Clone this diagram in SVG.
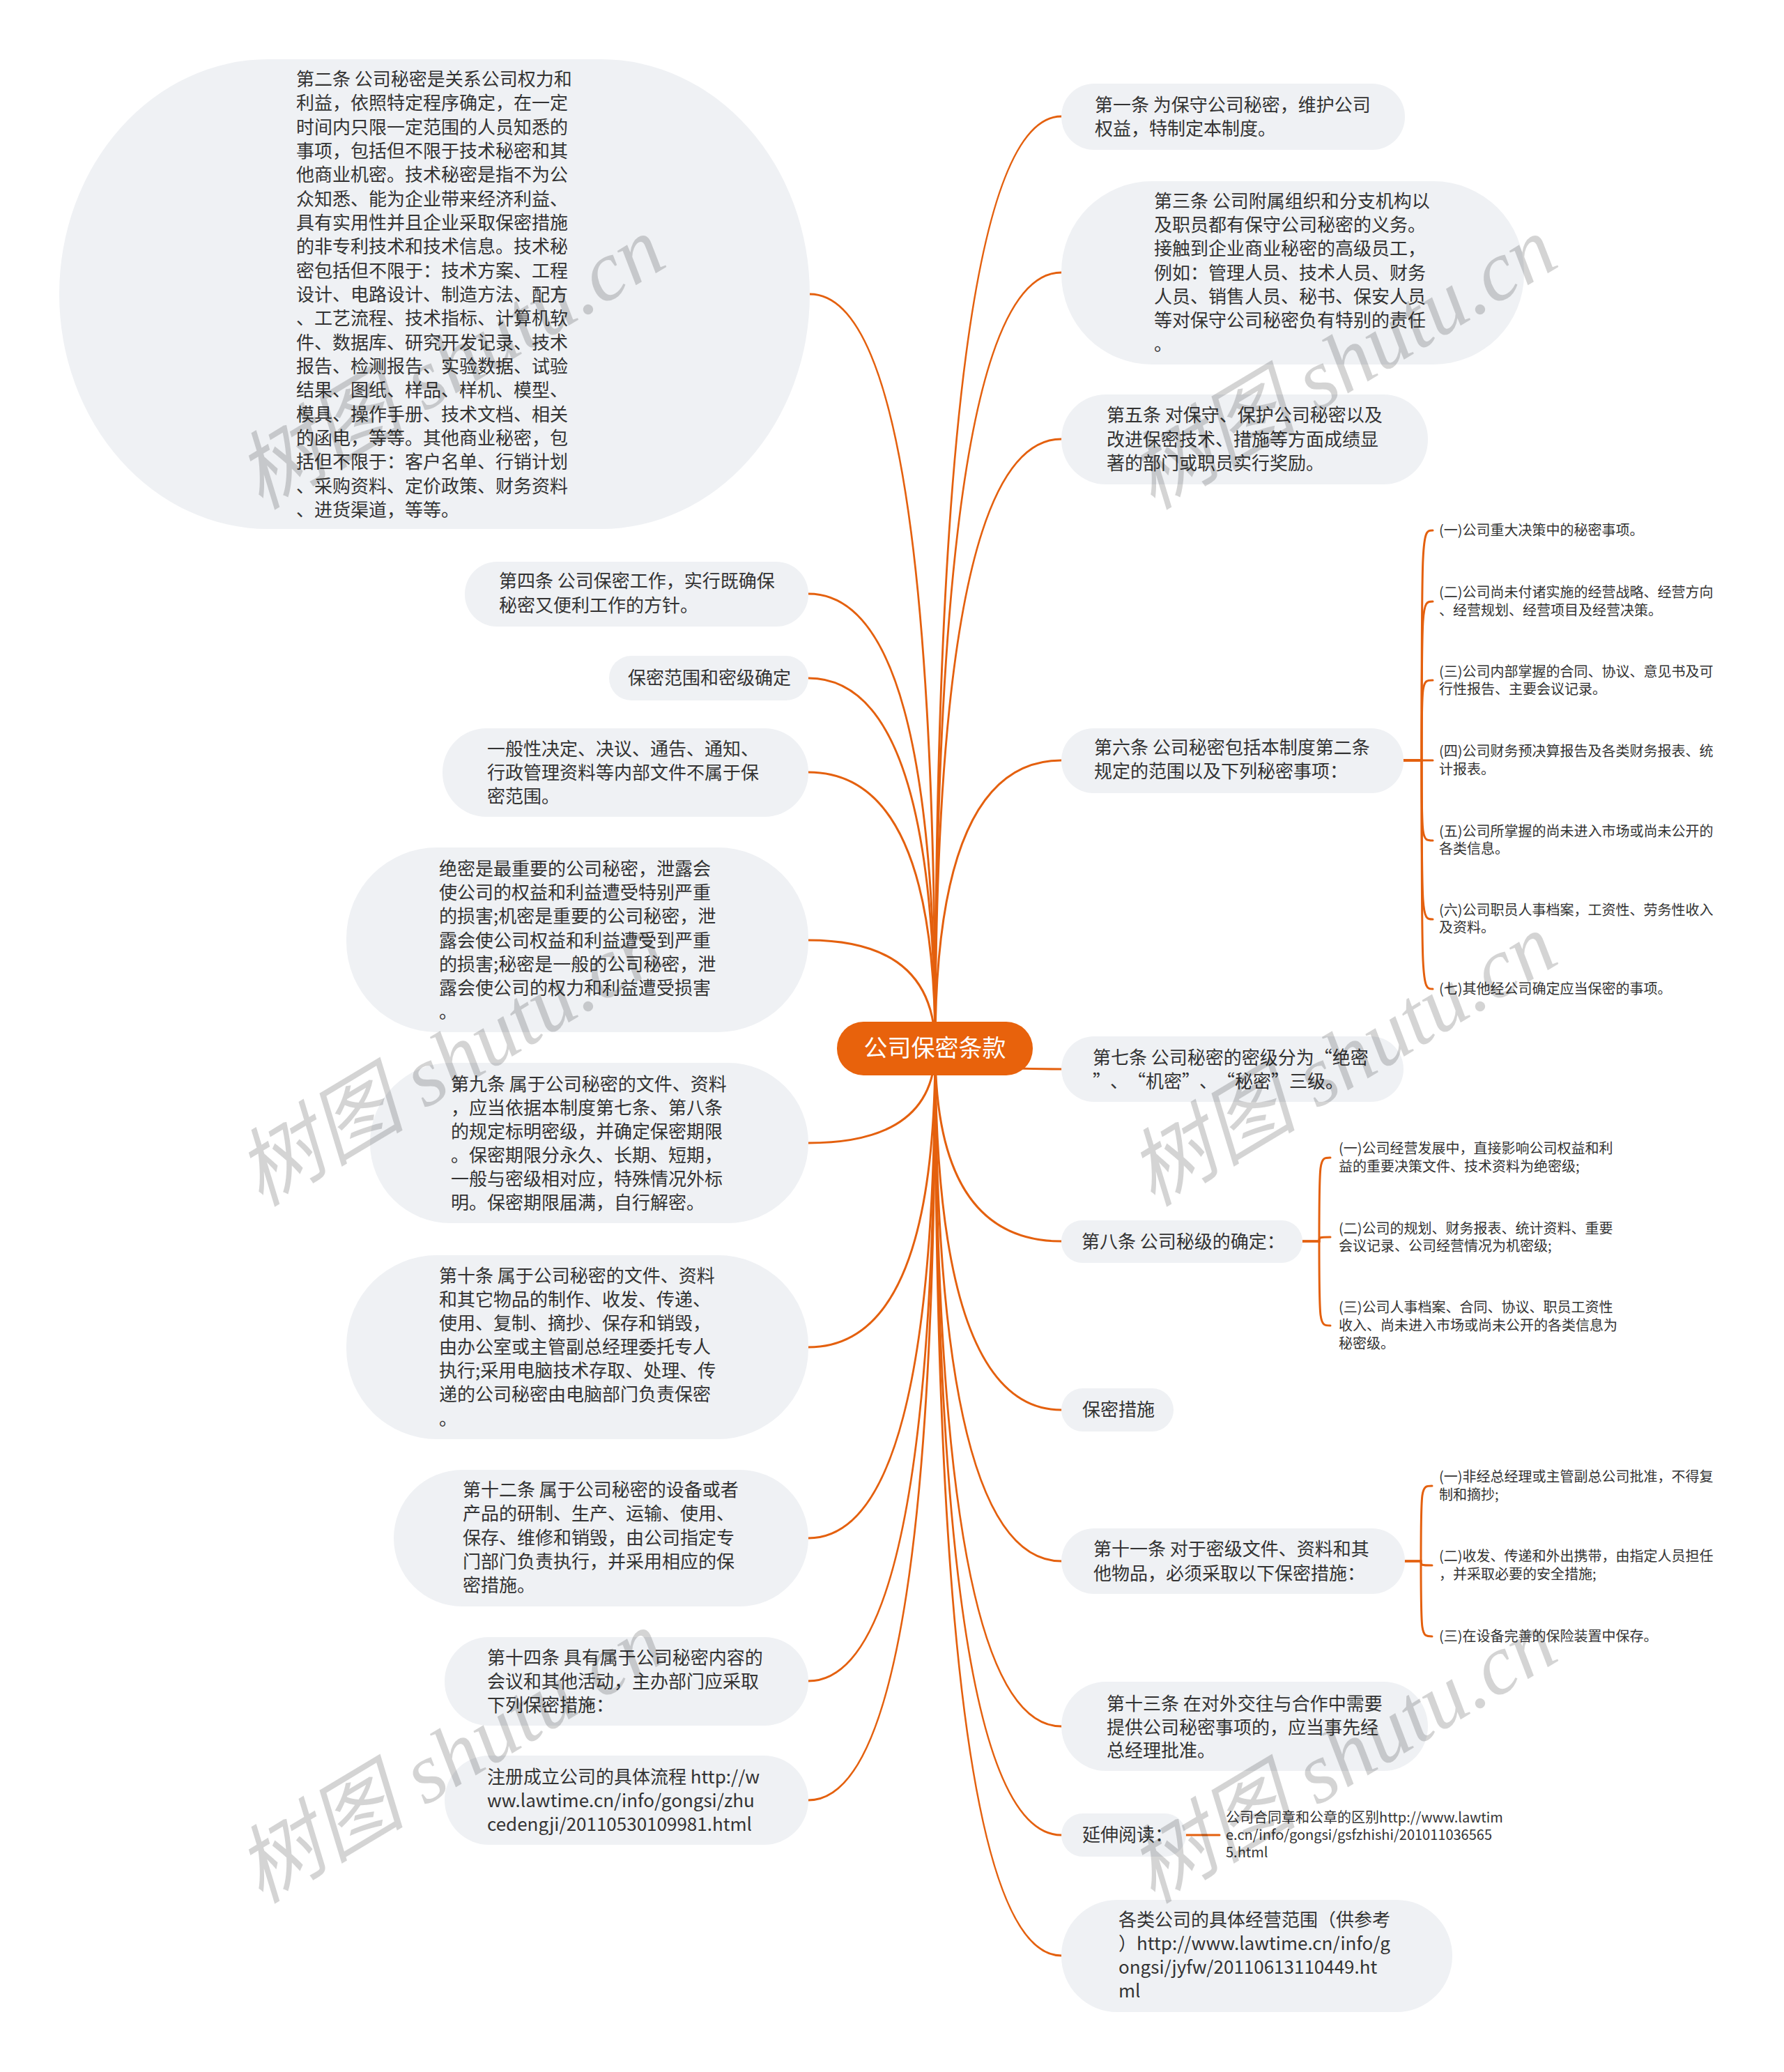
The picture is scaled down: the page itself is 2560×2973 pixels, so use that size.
<svg xmlns="http://www.w3.org/2000/svg" width="2560" height="2973" viewBox="0 0 2560 2973">
<style>
.bg{fill:#ffffff}
.nd{fill:#EFF1F4}
.t{font-family:"Noto Sans CJK SC","Noto Sans",sans-serif;font-size:26px;fill:#333333}
.s{font-family:"Noto Sans CJK SC","Noto Sans",sans-serif;font-size:20px;fill:#333333}
.c{font-family:"Noto Sans CJK SC","Noto Sans",sans-serif;font-size:34px;fill:#ffffff;text-anchor:middle}
.cn{fill:#E8620C}
.ln{fill:none;stroke:#E4600E;stroke-width:3;stroke-linecap:round}
.wm{font-family:"Liberation Serif","Noto Sans CJK SC",serif;font-style:italic;font-size:122px;fill:#000000;fill-opacity:0.17;text-anchor:middle}
</style>
<rect class="bg" x="0" y="0" width="2560" height="2973"/>
<g id="connectors">
<path class="ln" d="M1342,1504 Q1342,422 1162,422"/>
<path class="ln" d="M1342,1504 Q1342,852 1160,852"/>
<path class="ln" d="M1342,1504 Q1342,973 1160,973"/>
<path class="ln" d="M1342,1504 Q1342,1108 1160,1108"/>
<path class="ln" d="M1342,1504 Q1342,1349 1160,1349"/>
<path class="ln" d="M1342,1504 Q1342,1640 1160,1640"/>
<path class="ln" d="M1342,1504 Q1342,1933 1160,1933"/>
<path class="ln" d="M1342,1504 Q1342,2207 1160,2207"/>
<path class="ln" d="M1342,1504 Q1342,2412 1160,2412"/>
<path class="ln" d="M1342,1504 Q1342,2583 1160,2583"/>
<path class="ln" d="M1342,1504 Q1342,167 1523,167"/>
<path class="ln" d="M1342,1504 Q1342,391 1523,391"/>
<path class="ln" d="M1342,1504 Q1342,630 1523,630"/>
<path class="ln" d="M1342,1504 Q1342,1091 1523,1091"/>
<path class="ln" d="M1342,1504 Q1342,1534 1523,1534"/>
<path class="ln" d="M1342,1504 Q1342,1781 1523,1781"/>
<path class="ln" d="M1342,1504 Q1342,2023 1523,2023"/>
<path class="ln" d="M1342,1504 Q1342,2240 1523,2240"/>
<path class="ln" d="M1342,1504 Q1342,2477 1523,2477"/>
<path class="ln" d="M1342,1504 Q1342,2633 1523,2633"/>
<path class="ln" d="M1342,1504 Q1342,2806 1523,2806"/>
<path class="ln" d="M2014,1091 H2040 C2040,761 2040,761 2056,761"/>
<path class="ln" d="M2014,1091 H2040 C2040,863 2040,863 2056,863"/>
<path class="ln" d="M2014,1091 H2040 C2040,976 2040,976 2056,976"/>
<path class="ln" d="M2014,1091 H2056"/>
<path class="ln" d="M2014,1091 H2040 C2040,1206 2040,1206 2056,1206"/>
<path class="ln" d="M2014,1091 H2040 C2040,1319 2040,1319 2056,1319"/>
<path class="ln" d="M2014,1091 H2040 C2040,1419 2040,1419 2056,1419"/>
<path class="ln" d="M1869,1781 H1893 C1893,1661 1893,1661 1909,1661"/>
<path class="ln" d="M1869,1781 H1893 C1893,1775 1893,1775 1909,1775"/>
<path class="ln" d="M1869,1781 H1893 C1893,1902 1893,1902 1909,1902"/>
<path class="ln" d="M2016,2240 H2039 C2039,2132 2039,2132 2055,2132"/>
<path class="ln" d="M2016,2240 H2039 C2039,2246 2039,2246 2055,2246"/>
<path class="ln" d="M2016,2240 H2039 C2039,2348 2039,2348 2055,2348"/>
<path class="ln" d="M1702,2633 H1750"/>
</g>
<g id="root">
<rect class="cn" x="1201" y="1466" width="281" height="77" rx="38"/>
<text class="c" x="1341.5" y="1516">公司保密条款</text>
</g>
<g id="n-art2">
<rect class="nd" x="85" y="85" width="1077" height="674" rx="300" ry="337"/>
<text class="t"><tspan x="425" y="123">第二条 公司秘密是关系公司权力和</tspan><tspan x="425" y="157">利益，依照特定程序确定，在一定</tspan><tspan x="425" y="192">时间内只限一定范围的人员知悉的</tspan><tspan x="425" y="226">事项，包括但不限于技术秘密和其</tspan><tspan x="425" y="260">他商业机密。技术秘密是指不为公</tspan><tspan x="425" y="295">众知悉、能为企业带来经济利益、</tspan><tspan x="425" y="329">具有实用性并且企业采取保密措施</tspan><tspan x="425" y="363">的非专利技术和技术信息。技术秘</tspan><tspan x="425" y="398">密包括但不限于：技术方案、工程</tspan><tspan x="425" y="432">设计、电路设计、制造方法、配方</tspan><tspan x="425" y="466">、工艺流程、技术指标、计算机软</tspan><tspan x="425" y="501">件、数据库、研究开发记录、技术</tspan><tspan x="425" y="535">报告、检测报告、实验数据、试验</tspan><tspan x="425" y="569">结果、图纸、样品、样机、模型、</tspan><tspan x="425" y="604">模具、操作手册、技术文档、相关</tspan><tspan x="425" y="638">的函电，等等。其他商业秘密，包</tspan><tspan x="425" y="672">括但不限于：客户名单、行销计划</tspan><tspan x="425" y="707">、采购资料、定价政策、财务资料</tspan><tspan x="425" y="741">、进货渠道，等等。</tspan></text>
</g>
<g id="n-art4">
<rect class="nd" x="667" y="806" width="493" height="93" rx="46"/>
<text class="t"><tspan x="716" y="843">第四条 公司保密工作，实行既确保</tspan><tspan x="716" y="878">秘密又便利工作的方针。</tspan></text>
</g>
<g id="n-scope">
<rect class="nd" x="874" y="941" width="286" height="64" rx="32"/>
<text class="t"><tspan x="901" y="982">保密范围和密级确定</tspan></text>
</g>
<g id="n-general">
<rect class="nd" x="635" y="1045" width="525" height="127" rx="63"/>
<text class="t"><tspan x="699" y="1084">一般性决定、决议、通告、通知、</tspan><tspan x="699" y="1118">行政管理资料等内部文件不属于保</tspan><tspan x="699" y="1152">密范围。</tspan></text>
</g>
<g id="n-levels">
<rect class="nd" x="497" y="1216" width="663" height="265" rx="130"/>
<text class="t"><tspan x="630" y="1256">绝密是最重要的公司秘密，泄露会</tspan><tspan x="630" y="1290">使公司的权益和利益遭受特别严重</tspan><tspan x="630" y="1324">的损害;机密是重要的公司秘密，泄</tspan><tspan x="630" y="1359">露会使公司权益和利益遭受到严重</tspan><tspan x="630" y="1393">的损害;秘密是一般的公司秘密，泄</tspan><tspan x="630" y="1427">露会使公司的权力和利益遭受损害</tspan><tspan x="630" y="1461">。</tspan></text>
</g>
<g id="n-art9">
<rect class="nd" x="531" y="1525" width="629" height="230" rx="115"/>
<text class="t"><tspan x="647" y="1565">第九条 属于公司秘密的文件、资料</tspan><tspan x="647" y="1599">，应当依据本制度第七条、第八条</tspan><tspan x="647" y="1633">的规定标明密级，并确定保密期限</tspan><tspan x="647" y="1667">。保密期限分永久、长期、短期，</tspan><tspan x="647" y="1701">一般与密级相对应，特殊情况外标</tspan><tspan x="647" y="1735">明。保密期限届满，自行解密。</tspan></text>
</g>
<g id="n-art10">
<rect class="nd" x="497" y="1801" width="663" height="264" rx="130"/>
<text class="t"><tspan x="630" y="1840">第十条 属于公司秘密的文件、资料</tspan><tspan x="630" y="1874">和其它物品的制作、收发、传递、</tspan><tspan x="630" y="1908">使用、复制、摘抄、保存和销毁，</tspan><tspan x="630" y="1942">由办公室或主管副总经理委托专人</tspan><tspan x="630" y="1976">执行;采用电脑技术存取、处理、传</tspan><tspan x="630" y="2010">递的公司秘密由电脑部门负责保密</tspan><tspan x="630" y="2045">。</tspan></text>
</g>
<g id="n-art12">
<rect class="nd" x="565" y="2109" width="595" height="196" rx="98"/>
<text class="t"><tspan x="664" y="2147">第十二条 属于公司秘密的设备或者</tspan><tspan x="664" y="2181">产品的研制、生产、运输、使用、</tspan><tspan x="664" y="2216">保存、维修和销毁，由公司指定专</tspan><tspan x="664" y="2250">门部门负责执行，并采用相应的保</tspan><tspan x="664" y="2284">密措施。</tspan></text>
</g>
<g id="n-art14">
<rect class="nd" x="638" y="2349" width="522" height="127" rx="63"/>
<text class="t"><tspan x="699" y="2388">第十四条 具有属于公司秘密内容的</tspan><tspan x="699" y="2422">会议和其他活动，主办部门应采取</tspan><tspan x="699" y="2456">下列保密措施：</tspan></text>
</g>
<g id="n-register">
<rect class="nd" x="638" y="2519" width="522" height="128" rx="64"/>
<text class="t"><tspan x="699" y="2559">注册成立公司的具体流程  http://w</tspan><tspan x="699" y="2593">ww.lawtime.cn/info/gongsi/zhu</tspan><tspan x="699" y="2627">cedengji/20110530109981.html</tspan></text>
</g>
<g id="n-art1">
<rect class="nd" x="1523" y="120" width="493" height="95" rx="47"/>
<text class="t"><tspan x="1571" y="160">第一条 为保守公司秘密，维护公司</tspan><tspan x="1571" y="194">权益，特制定本制度。</tspan></text>
</g>
<g id="n-art3">
<rect class="nd" x="1523" y="260" width="664" height="263" rx="130"/>
<text class="t"><tspan x="1656" y="298">第三条 公司附属组织和分支机构以</tspan><tspan x="1656" y="332">及职员都有保守公司秘密的义务。</tspan><tspan x="1656" y="366">接触到企业商业秘密的高级员工，</tspan><tspan x="1656" y="401">例如：管理人员、技术人员、财务</tspan><tspan x="1656" y="435">人员、销售人员、秘书、保安人员</tspan><tspan x="1656" y="469">等对保守公司秘密负有特别的责任</tspan><tspan x="1656" y="503">。</tspan></text>
</g>
<g id="n-art5">
<rect class="nd" x="1523" y="566" width="526" height="129" rx="64"/>
<text class="t"><tspan x="1588" y="605">第五条 对保守、保护公司秘密以及</tspan><tspan x="1588" y="640">改进保密技术、措施等方面成绩显</tspan><tspan x="1588" y="674">著的部门或职员实行奖励。</tspan></text>
</g>
<g id="n-art6">
<rect class="nd" x="1523" y="1045" width="491" height="93" rx="46"/>
<text class="t"><tspan x="1570" y="1082">第六条 公司秘密包括本制度第二条</tspan><tspan x="1570" y="1116">规定的范围以及下列秘密事项：</tspan></text>
</g>
<g id="n-art6-items">
<text class="s"><tspan x="2065" y="768">(一)公司重大决策中的秘密事项。</tspan></text>
<text class="s"><tspan x="2065" y="857">(二)公司尚未付诸实施的经营战略、经营方向</tspan><tspan x="2065" y="883">、经营规划、经营项目及经营决策。</tspan></text>
<text class="s"><tspan x="2065" y="971">(三)公司内部掌握的合同、协议、意见书及可</tspan><tspan x="2065" y="996">行性报告、主要会议记录。</tspan></text>
<text class="s"><tspan x="2065" y="1085">(四)公司财务预决算报告及各类财务报表、统</tspan><tspan x="2065" y="1111">计报表。</tspan></text>
<text class="s"><tspan x="2065" y="1200">(五)公司所掌握的尚未进入市场或尚未公开的</tspan><tspan x="2065" y="1225">各类信息。</tspan></text>
<text class="s"><tspan x="2065" y="1313">(六)公司职员人事档案，工资性、劳务性收入</tspan><tspan x="2065" y="1338">及资料。</tspan></text>
<text class="s"><tspan x="2065" y="1426">(七)其他经公司确定应当保密的事项。</tspan></text>
</g>
<g id="n-art7">
<rect class="nd" x="1523" y="1487" width="491" height="94" rx="47"/>
<text class="t"><tspan x="1568" y="1527">第七条 公司秘密的密级分为“绝密</tspan><tspan x="1568" y="1561">”<tspan dx="12">、</tspan><tspan dx="12">“</tspan>机密”<tspan dx="12">、</tspan><tspan dx="12">“</tspan>秘密”三级。</tspan></text>
</g>
<g id="n-art8">
<rect class="nd" x="1523" y="1751" width="346" height="61" rx="30"/>
<text class="t"><tspan x="1552" y="1791">第八条 公司秘级的确定：</tspan></text>
</g>
<g id="n-art8-items">
<text class="s"><tspan x="1921" y="1655">(一)公司经营发展中，直接影响公司权益和利</tspan><tspan x="1921" y="1681">益的重要决策文件、技术资料为绝密级;</tspan></text>
<text class="s"><tspan x="1921" y="1770">(二)公司的规划、财务报表、统计资料、重要</tspan><tspan x="1921" y="1795">会议记录、公司经营情况为机密级;</tspan></text>
<text class="s"><tspan x="1921" y="1883">(三)公司人事档案、合同、协议、职员工资性</tspan><tspan x="1921" y="1909">收入、尚未进入市场或尚未公开的各类信息为</tspan><tspan x="1921" y="1935">秘密级。</tspan></text>
</g>
<g id="n-measures">
<rect class="nd" x="1523" y="1992" width="161" height="62" rx="31"/>
<text class="t"><tspan x="1553" y="2032">保密措施</tspan></text>
</g>
<g id="n-art11">
<rect class="nd" x="1523" y="2193" width="493" height="94" rx="47"/>
<text class="t"><tspan x="1569" y="2232">第十一条 对于密级文件、资料和其</tspan><tspan x="1569" y="2267">他物品，必须采取以下保密措施：</tspan></text>
</g>
<g id="n-art11-items">
<text class="s"><tspan x="2065" y="2126">(一)非经总经理或主管副总公司批准，不得复</tspan><tspan x="2065" y="2152">制和摘抄;</tspan></text>
<text class="s"><tspan x="2065" y="2240">(二)收发、传递和外出携带，由指定人员担任</tspan><tspan x="2065" y="2266">，并采取必要的安全措施;</tspan></text>
<text class="s"><tspan x="2065" y="2355">(三)在设备完善的保险装置中保存。</tspan></text>
</g>
<g id="n-art13">
<rect class="nd" x="1523" y="2413" width="526" height="128" rx="64"/>
<text class="t"><tspan x="1588" y="2454">第十三条 在对外交往与合作中需要</tspan><tspan x="1588" y="2488">提供公司秘密事项的，应当事先经</tspan><tspan x="1588" y="2521">总经理批准。</tspan></text>
</g>
<g id="n-reading">
<rect class="nd" x="1523" y="2602" width="179" height="62" rx="31"/>
<text class="t"><tspan x="1553" y="2642">延伸阅读：</tspan></text>
</g>
<g id="n-reading-item">
<text class="s"><tspan x="1759" y="2615">公司合同章和公章的区别http://www.lawtim</tspan><tspan x="1759" y="2640">e.cn/info/gongsi/gsfzhishi/201011036565</tspan><tspan x="1759" y="2665">5.html</tspan></text>
</g>
<g id="n-scope-list">
<rect class="nd" x="1523" y="2726" width="561" height="161" rx="80"/>
<text class="t"><tspan x="1605" y="2764">各类公司的具体经营范围（供参考</tspan><tspan x="1605" y="2798">）http://www.lawtime.cn/info/g</tspan><tspan x="1605" y="2832">ongsi/jyfw/20110613110449.ht</tspan><tspan x="1605" y="2866">ml</tspan></text>
</g>
<g id="watermarks">
<text class="wm" x="647" y="562" transform="rotate(-31 647 522)">树图 shutu.cn</text>
<text class="wm" x="1927" y="562" transform="rotate(-31 1927 522)">树图 shutu.cn</text>
<text class="wm" x="647" y="1562" transform="rotate(-31 647 1522)">树图 shutu.cn</text>
<text class="wm" x="1927" y="1562" transform="rotate(-31 1927 1522)">树图 shutu.cn</text>
<text class="wm" x="647" y="2562" transform="rotate(-31 647 2522)">树图 shutu.cn</text>
<text class="wm" x="1927" y="2562" transform="rotate(-31 1927 2522)">树图 shutu.cn</text>
</g>
</svg>
